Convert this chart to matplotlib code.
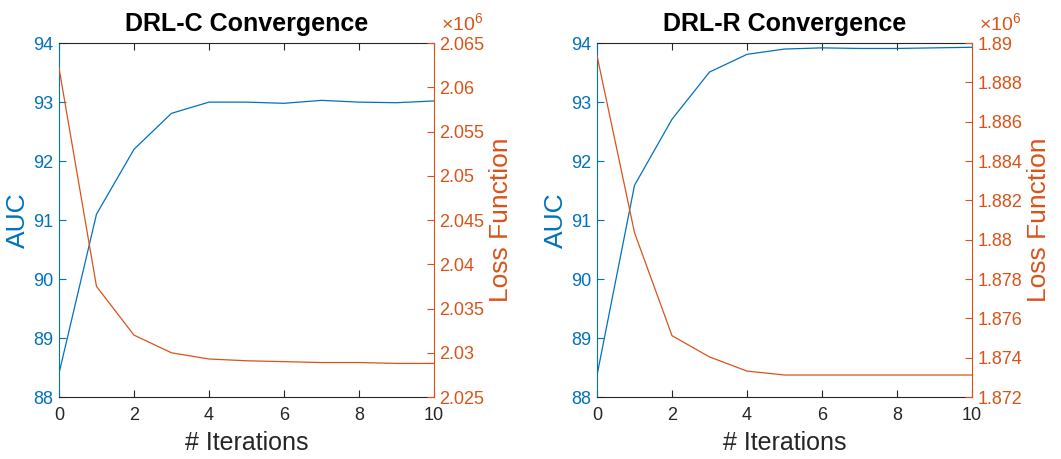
import numpy as np
import matplotlib
matplotlib.use("Agg")
import matplotlib.pyplot as plt
from matplotlib.ticker import FuncFormatter

plt.rcParams['font.family'] = ['Liberation Sans', 'DejaVu Sans']
plt.rcParams['mathtext.fontset'] = 'custom'
plt.rcParams['mathtext.rm'] = 'Liberation Sans'

iters = np.arange(0, 11)

# DRL-C
auc_c = [88.4, 91.1, 92.2, 92.81, 93.0, 93.0, 92.98, 93.03, 93.0, 92.99, 93.02]
loss_c = [2062200, 2037500, 2032000, 2030000, 2029300, 2029100,
          2029000, 2028900, 2028900, 2028800, 2028800]

# DRL-R
auc_r = [88.37, 91.59, 92.71, 93.51, 93.81, 93.90, 93.92, 93.91, 93.91, 93.92, 93.93]
loss_r = [1889360, 1880360, 1875120, 1874040, 1873320, 1873120,
          1873120, 1873120, 1873120, 1873120, 1873120]

titles = ["DRL-C Convergence", "DRL-R Convergence"]
loss_lims = [(2.025e6, 2.065e6), (1.872e6, 1.890e6)]
loss_steps = [0.005e6, 0.002e6]

blue = '#0072BD'
orange = '#D95319'
dark = '#262626'

fig = plt.figure(figsize=(10.61, 4.59), dpi=100)
positions = [[0.0556, 0.135, 0.3534, 0.771], [0.5627, 0.135, 0.3534, 0.771]]

for k, (auc, loss) in enumerate([(auc_c, loss_c), (auc_r, loss_r)]):
    ax = fig.add_axes(positions[k])
    ax2 = ax.twinx()

    ax.plot(iters, auc, color=blue, lw=0.9)
    ax2.plot(iters, loss, color=orange, lw=0.9)

    ax.set_xlim(0, 10)
    ax.set_ylim(88, 94)
    ax.set_xticks(np.arange(0, 11, 2))
    ax.set_yticks(np.arange(88, 95, 1))
    lo, hi = loss_lims[k]
    ax2.set_ylim(lo, hi)
    ax2.set_yticks(np.arange(lo, hi + loss_steps[k] / 2, loss_steps[k]))
    ax2.yaxis.set_major_formatter(FuncFormatter(lambda v, p: '%g' % round(v / 1e6, 4)))

    ax.tick_params(axis='x', direction='in', top=True, colors=dark, labelsize=13, length=5, pad=7)
    ax.tick_params(axis='y', direction='in', colors=blue, labelsize=13, length=5, pad=4)
    ax2.tick_params(axis='y', direction='in', colors=orange, labelsize=13, length=5, pad=4)

    ax.spines['left'].set_color(blue)
    ax.spines['bottom'].set_color(dark)
    ax.spines['top'].set_color(dark)
    ax2.spines['left'].set_visible(False)
    ax2.spines['bottom'].set_visible(False)
    ax2.spines['top'].set_visible(False)
    ax.spines['right'].set_visible(False)
    ax2.spines['right'].set_color(orange)

    ax.set_ylabel("AUC", color=blue, fontsize=19, labelpad=2)
    ax2.set_ylabel("Loss Function", color=orange, fontsize=19, rotation=90, labelpad=3)
    ax.set_xlabel("# Iterations", color=dark, fontsize=18, labelpad=5)
    ax.set_title(titles[k], fontsize=18, fontweight='bold', pad=9)

    ax2.text(1.018, 1.022, r'$\times10^6$', transform=ax.transAxes, color=orange,
             fontsize=14, ha='left', va='bottom')

fig.savefig("out.png", dpi=100)
